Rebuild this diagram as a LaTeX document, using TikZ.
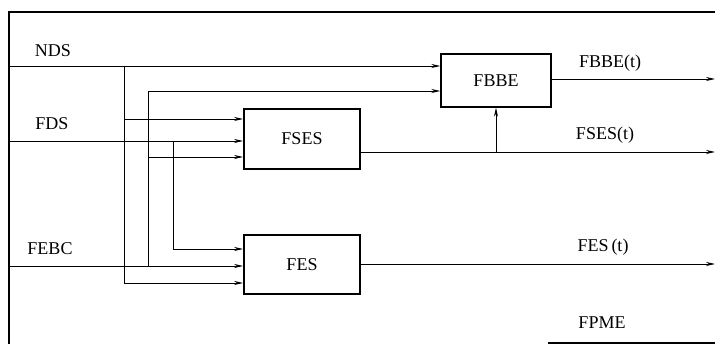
\documentclass[tikz,border=0pt]{standalone}
\usepackage{fontspec}
\setmainfont{Liberation Serif}
\usetikzlibrary{arrows.meta}
\begin{document}
\begin{tikzpicture}[x=1pt,y=-1pt,
  wire/.style={line width=0.8pt},
  arr/.style={wire,-{Stealth[length=9pt,width=4pt]}},
  frame/.style={line width=1.8pt},
  blk/.style={draw,line width=1.8pt,minimum width=116pt,minimum height=60pt,inner sep=0pt,font=\fontsize{18}{21}\selectfont},
  lbl/.style={inner sep=0pt,font=\fontsize{18}{21}\selectfont}]
\useasboundingbox (0,0) rectangle (715,344);
% frame
\draw[frame] (715,12) -- (9,12) -- (9,344);
\draw[frame] (548,343) -- (715,343);
% blocks
\node[blk,minimum width=110pt,minimum height=53pt,line width=1.4pt] (FBBE) at (496,80.5) {FBBE};
\node[blk] (FSES) at (302,139) {FSES};
\node[blk,minimum height=59pt] (FES) at (302,264.5) {FES};
% labels
\node[lbl] (lNDS) at (53,51) {NDS};
\node[lbl] (lFDS) at (52,124) {FDS};
\node[lbl] (lFEBC) at (50,249) {FEBC};
\node[lbl] (lFBBEt) at (610,63) {FBBE(t)};
\node[lbl] (lFSESt) at (605,135) {FSES(t)};
\node[lbl] (lFESt) at (603,247) {FES\,(t)};
\node[lbl] (lFPME) at (602,323) {FPME};
% coordinates
\coordinate (ndsL) at (9,66);
\coordinate (fdsL) at (9,141);
\coordinate (febcL) at (9,266);
\coordinate (a1) at (124,66);
\coordinate (a2) at (124,119);
\coordinate (a3) at (124,283);
\coordinate (b1) at (173,141);
\coordinate (b2) at (173,249);
\coordinate (c1) at (148,266);
\coordinate (c2) at (148,157);
\coordinate (c3) at (148,91);
\coordinate (o1) at (715,79);
\coordinate (o2) at (715,152);
\coordinate (o3) at (715,264);
\coordinate (d1) at (496,152);
% inputs
\draw[arr] (ndsL) -- (FBBE.west |- ndsL);
\draw[arr] (a1) |- (FES.west |- a3);
\draw[arr] (a2) -- (FSES.west |- a2);
\draw[arr] (fdsL) -- (FSES.west |- fdsL);
\draw[arr] (b1) |- (FES.west |- b2);
\draw[arr] (febcL) -- (FES.west |- febcL);
\draw[arr] (c1) |- (FBBE.west |- c3);
\draw[arr] (c2) -- (FSES.west |- c2);
% outputs
\draw[arr] (FBBE.east |- o1) -- (o1);
\draw[arr] (FSES.east |- o2) -- (o2);
\draw[arr] (d1) -- (FBBE.south);
\draw[arr] (FES.east |- o3) -- (o3);
\end{tikzpicture}
\end{document}
